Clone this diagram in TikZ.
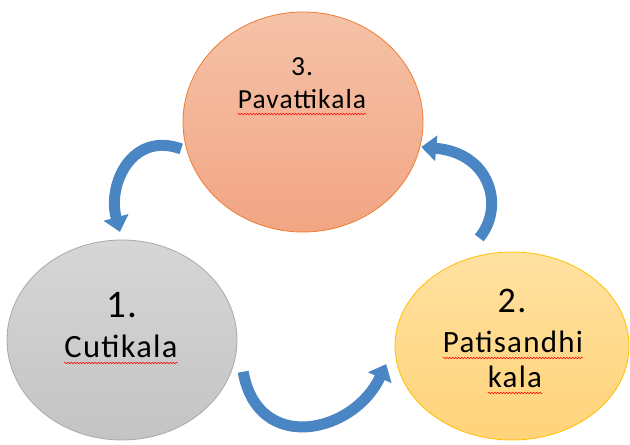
\documentclass[tikz,border=0pt]{standalone}
\usepackage{fontspec}
\setmainfont{Carlito}[LetterSpace=4]
\usetikzlibrary{shapes.geometric,arrows.meta,decorations.pathmorphing}

\definecolor{cutiline}{HTML}{A9A9A9}
\definecolor{cutitop}{HTML}{D6D6D6}
\definecolor{cutibot}{HTML}{C4C4C4}
\definecolor{patiline}{HTML}{FFC000}
\definecolor{patitop}{HTML}{FFE1A0}
\definecolor{patibot}{HTML}{FFD37A}
\definecolor{pavaline}{HTML}{ED7D31}
\definecolor{pavatop}{HTML}{F5C2A8}
\definecolor{pavabot}{HTML}{F2A584}
\definecolor{arrowblue}{HTML}{4A85C4}

\tikzset{
  phase/.style={ellipse, inner sep=0pt, line width=0.8pt},
  phase text/.style={anchor=base, inner sep=0pt, text=black},
  cycle arrow/.style={arrowblue, line width=11pt,
    -{Triangle[width=25pt,length=15pt]}},
  spell/.style={red, line width=0.5pt,
    decorate, decoration={snake, amplitude=0.8pt, segment length=3pt}}
}

\begin{document}
\begin{tikzpicture}[x=1pt,y=1pt]
  \useasboundingbox (0,0) rectangle (630,445);
  % the three phases
  \node [phase, draw=cutiline, top color=cutitop, bottom color=cutibot,
    minimum width=230pt, minimum height=200pt] (cuti) at (122,105) {};
  \node [phase, draw=patiline, top color=patitop, bottom color=patibot,
    minimum width=234pt, minimum height=188pt] (pati) at (512,99) {};
  \node [phase, draw=pavaline, top color=pavatop, bottom color=pavabot,
    minimum width=240pt, minimum height=220pt] (pava) at (303,323) {};

  % labels
  \node [phase text, font=\fontsize{39}{41}\selectfont] (cutinum) at (122,127) {1.};
  \node [phase text, font=\fontsize{32.5}{35}\selectfont] (cutiname) at (121,87) {Cutikala};
  \node [phase text, font=\fontsize{36}{38}\selectfont] (patinum) at (512,132) {2.};
  \node [phase text, font=\fontsize{31}{33}\selectfont] (patiname) at (513,92) {Patisandhi};
  \node [phase text, font=\fontsize{31}{33}\selectfont] (patikala) at (515,57) {kala};
  \node [phase text, font=\fontsize{27.5}{30}\selectfont] (pavanum) at (302,369) {3.};
  \node [phase text, font=\fontsize{27.5}{30}\selectfont] (pavaname) at (302,336) {Pavattikala};

  % spell check marks
  \foreach \t in {cutiname,patiname,patikala,pavaname}
    \draw [spell] ([yshift=-5pt]\t.base west) -- ([yshift=-5pt]\t.base east);

  % arrows round the cycle
  \draw [cycle arrow, shorten <=6pt, shorten >=8pt]
    (pava.194) to[out=160, in=105, looseness=1.35] (cuti.north);
  \draw [cycle arrow, shorten <=12pt, shorten >=20pt]
    ([xshift=6pt]cuti.-10) to[out=-80, in=-115, looseness=1.6] (pati.west);
  \draw [cycle arrow, shorten <=31pt, shorten >=1pt]
    (pati.122) to[out=50, in=-5, looseness=1.5] (pava.-12);
\end{tikzpicture}
\end{document}
